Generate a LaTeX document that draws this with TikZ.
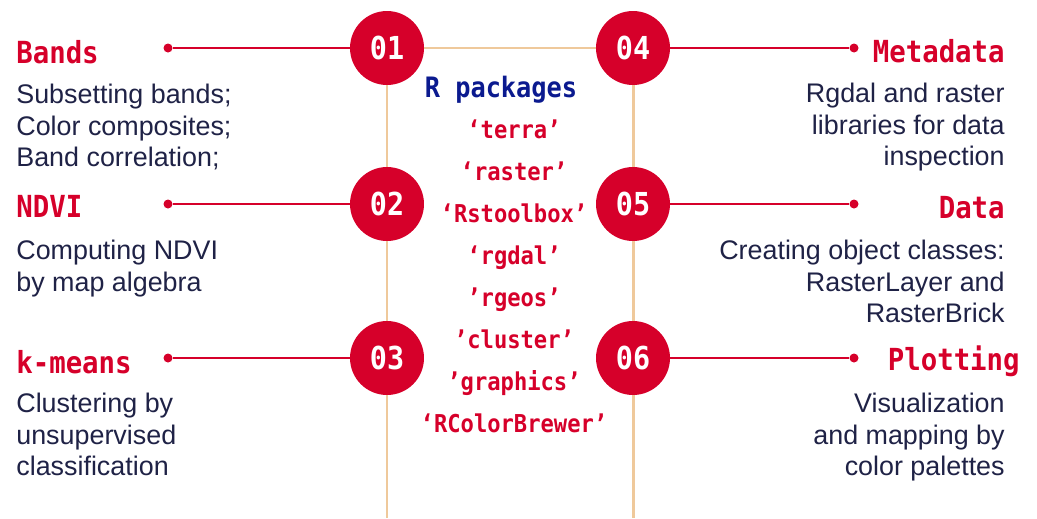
\documentclass[tikz,border=0pt]{standalone}
\usepackage{fontspec}
\setmainfont{Liberation Sans}
\newfontfamily\monofont[FakeStretch=0.9]{DejaVu Sans Mono}
\definecolor{markred}{HTML}{D6002A}
\definecolor{textnavy}{HTML}{1F2246}
\definecolor{pkgblue}{HTML}{0B1A8F}
\definecolor{stemtan}{HTML}{EFC99B}

\begin{document}
\begin{tikzpicture}[x=0.02cm, y=-0.02cm]
	\tikzset{
	    numnode/.style= {circle, fill=markred, text=white, minimum size=1.48cm, inner sep=0pt,
	        font=\monofont\bfseries\fontsize{18}{18}\selectfont},
	    dotnode/.style= {circle, fill=markred, minimum size=0.18cm, inner sep=0pt},
	    headnode/.style= {inner sep=0pt, text=markred, font=\monofont\bfseries\fontsize{17.3}{17.3}\selectfont},
	    bodynode/.style= {inner sep=0pt, text=textnavy, font=\fontsize{15.3}{17.9}\selectfont},
	    pkgnode/.style= {inner sep=0pt, text=markred, font=\monofont\bfseries\fontsize{14}{14}\selectfont},
	    redline/.style= {draw=markred, line width=1.4pt},
	    tanline/.style= {draw=stemtan, line width=1.7pt},
	}
	\useasboundingbox (0, 0) rectangle (1037, 518);

	\node[numnode] (c1) at (387, 48) {01};
	\node[numnode] (c2) at (387, 204) {02};
	\node[numnode] (c3) at (387, 358) {03};
	\node[numnode] (c4) at (633, 48) {04};
	\node[numnode] (c5) at (633, 204) {05};
	\node[numnode] (c6) at (633, 358) {06};
	\coordinate (e1) at (387, 518);
	\coordinate (e2) at (633, 518);

	\node[dotnode] (d1) at (168, 48) {};
	\node[dotnode] (d2) at (168, 204) {};
	\node[dotnode] (d3) at (168, 358) {};
	\node[dotnode] (d4) at (854, 48) {};
	\node[dotnode] (d5) at (854, 204) {};
	\node[dotnode] (d6) at (854, 358) {};

	\draw
	(c1) edge[tanline] (c4)
	(c1) edge[tanline] (c2)
	(c2) edge[tanline] (c3)
	(c3) edge[tanline] (e1)
	(c4) edge[tanline] (c5)
	(c5) edge[tanline] (c6)
	(c6) edge[tanline] (e2);

	\draw
	(c1) edge[redline] (d1)
	(c2) edge[redline] (d2)
	(c3) edge[redline] (d3)
	(c4) edge[redline] (d4)
	(c5) edge[redline] (d5)
	(c6) edge[redline] (d6);

	% left column
	\node[headnode, anchor=base west] (h1) at (16, 63) {Bands};
	\node[bodynode, anchor=north west, align=left] (b1) at (16, 84)
	    {Subsetting bands;\\Color composites;\\Band correlation;};
	\node[headnode, anchor=base west] (h2) at (16, 217) {NDVI};
	\node[bodynode, anchor=north west, align=left] (b2) at (16, 240)
	    {Computing NDVI\\by map algebra};
	\node[headnode, anchor=base west] (h3) at (16, 373) {k-means};
	\node[bodynode, anchor=north west, align=left] (b3) at (16, 393)
	    {Clustering by\\unsupervised\\classification};

	% right column
	\node[headnode, anchor=base east] (h4) at (1005, 62) {Metadata};
	\node[bodynode, anchor=north east, align=right] (b4) at (1005, 83)
	    {Rgdal and raster\\libraries for data\\inspection};
	\node[headnode, anchor=base east] (h5) at (1005, 218) {Data};
	\node[bodynode, anchor=north east, align=right] (b5) at (1005, 240)
	    {Creating object classes:\\RasterLayer and\\RasterBrick};
	\node[headnode, anchor=base east] (h6) at (1020, 370) {Plotting};
	\node[bodynode, anchor=north east, align=right] (b6) at (1005, 393)
	    {Visualization\\and mapping by\\color palettes};

	% packages in the middle
	\node[headnode, text=pkgblue, font=\monofont\bfseries\fontsize{16}{16}\selectfont,
	    anchor=base] (rp) at (501, 97) {R packages};
	\foreach \pkg [count=\i] in {‘terra’, ‘raster’, ‘Rstoolbox’, ‘rgdal’,
	        ’rgeos’, ’cluster’, ’graphics’, ‘RColorBrewer’}
	    \node[pkgnode, anchor=base] (p\i) at (514, 96 + 42.1*\i) {\pkg};
\end{tikzpicture}
\end{document}
